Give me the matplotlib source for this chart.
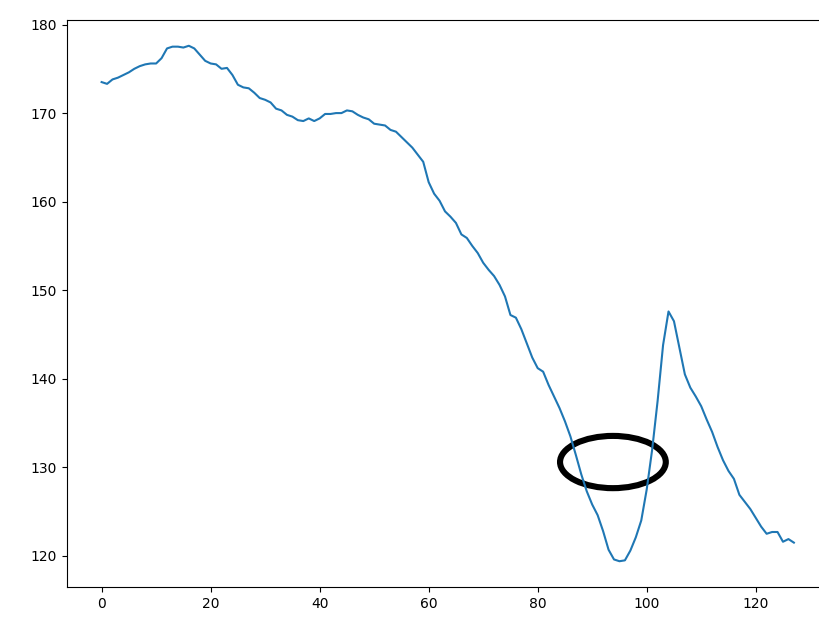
import matplotlib
matplotlib.use("Agg")
import matplotlib.pyplot as plt
from matplotlib.patches import Ellipse

# values, one per index 0..127
values = [
    173.5, 173.3, 173.8, 174.0, 174.3, 174.6, 175.0, 175.3, 175.5, 175.6,
    175.6, 176.2, 177.3, 177.5, 177.5, 177.4, 177.6, 177.3, 176.6, 175.9,
    175.6, 175.5, 175.0, 175.1, 174.3, 173.2, 172.9, 172.8, 172.3, 171.7,
    171.5, 171.2, 170.5, 170.3, 169.8, 169.6, 169.2, 169.1, 169.4, 169.1,
    169.4, 169.9, 169.9, 170.0, 170.0, 170.3, 170.2, 169.8, 169.5, 169.3,
    168.8, 168.7, 168.6, 168.1, 167.9, 167.3, 166.7, 166.1, 165.3, 164.5,
    162.2, 160.9, 160.1, 158.9, 158.3, 157.6, 156.3, 155.9, 155.0, 154.2,
    153.1, 152.3, 151.6, 150.6, 149.3, 147.2, 146.9, 145.6, 144.0, 142.4,
    141.2, 140.8, 139.3, 138.0, 136.7, 135.2, 133.5, 131.4, 129.2, 127.3,
    125.8, 124.6, 122.8, 120.7, 119.6, 119.4, 119.5, 120.6, 122.1, 124.0,
    127.5, 132.0, 137.5, 143.8, 147.6, 146.5, 143.5, 140.5, 139.0, 138.0,
    136.9, 135.4, 134.0, 132.3, 130.8, 129.6, 128.7, 126.9, 126.1, 125.3,
    124.3, 123.3, 122.5, 122.7, 122.7, 121.6, 121.9, 121.5,
]

# marked region
circle_center = (93.8, 130.6)
circle_size = (19.4, 5.9)

fig = plt.figure(figsize=(8.19, 6.21), dpi=100)
ax = fig.add_axes([67 / 819, 34 / 621, 761.5 / 819, 567 / 621])
ax.plot(range(len(values)), values)

ax.add_patch(Ellipse(circle_center, circle_size[0], circle_size[1],
                     fill=False, edgecolor="black", lw=4.4))

fig.savefig("out.png", dpi=100)
